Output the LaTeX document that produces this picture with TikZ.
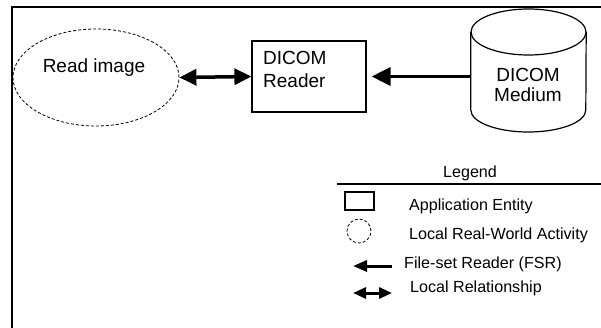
\documentclass[tikz,border=0pt]{standalone}
\usepackage{fontspec}
\setmainfont{Liberation Sans}
\usetikzlibrary{arrows.meta,shapes.geometric}
\begin{document}
\begin{tikzpicture}[x=1pt,y=-1pt,
  bigtxt/.style={inner sep=0pt,font=\fontsize{19}{21}\selectfont},
  legtxt/.style={inner sep=0pt,font=\fontsize{16.1}{18}\selectfont,anchor=base west},
  thickarrow/.style={line width=3.5pt},
  bigtip/.style={-{Triangle[length=19pt,width=18pt]}},
  dbltip/.style={{Triangle[length=17pt,width=16pt]}-{Triangle[length=17pt,width=16pt]}},
  smalltip/.style={-{Triangle[length=14pt,width=11pt]}},
  smalldbl/.style={{Triangle[length=13pt,width=11pt]}-{Triangle[length=13pt,width=11pt]}},
  dashy/.style={dash pattern=on 3pt off 2pt,line width=0.8pt}]
\useasboundingbox (0,0) rectangle (601,328);
% frame
\draw[line width=2.6pt] (601,7) -- (12,7) -- (12,328);
% Read image activity
\node[ellipse,draw,dashy,minimum width=166pt,minimum height=97pt,inner sep=0pt] (re) at (96,77.5) {};
\node[bigtxt,anchor=base] (retx) at (94,73) {Read image};
% DICOM Reader AE
\node[draw,line width=1.2pt,minimum width=114pt,minimum height=71pt,inner sep=0pt] (rdr) at (309,76.5) {};
\node[bigtxt,anchor=base west] (rdr1) at (263,65) {DICOM};
\node[bigtxt,anchor=base west] (rdr2) at (263,87.5) {Reader};
% DICOM Medium cylinder
\node[minimum width=115pt,minimum height=123pt,inner sep=0pt] (med) at (528.5,70.5) {};
\draw[line width=1.2pt] (528.5,32) ellipse [x radius=57.5,y radius=23];
\draw[line width=1.2pt] (med.west |- 0,32) -- (med.west |- 0,110)
  arc[start angle=180,end angle=0,x radius=57.5,y radius=22] -- (med.east |- 0,32);
\node[bigtxt,anchor=base] (med1) at (528,82) {DICOM};
\node[bigtxt,anchor=base] (med2) at (528,102) {Medium};
% connectors
\draw[thickarrow,dbltip] (re.east) -- (rdr.west);
\draw[thickarrow,bigtip,shorten >=5pt] (rdr.east -| med.west) -- (rdr.east);
% legend
\node[inner sep=0pt,font=\fontsize{16.1}{18}\selectfont,anchor=base] (leg) at (470,178) {Legend};
\draw[line width=2.5pt] (337,184) -- (601,184);
\node[draw,line width=1.2pt,minimum width=29pt,minimum height=18pt,inner sep=0pt] (lae) at (359.5,201) {};
\node[legtxt] (laet) at (409,210.7) {Application Entity};
\node[circle,draw,dashy,minimum size=24pt,inner sep=0pt] (lla) at (359,231) {};
\node[legtxt] (llat) at (409,239.3) {Local Real-World Activity};
\coordinate (fsrA) at (392,266);
\coordinate (fsrB) at (353,266);
\draw[line width=3pt,smalltip] (fsrA) -- (fsrB);
\node[legtxt] (fsrt) at (404,268.3) {File-set Reader (FSR)};
\coordinate (lrA) at (353,293);
\coordinate (lrB) at (392,293);
\draw[line width=3pt,smalldbl] (lrA) -- (lrB);
\node[legtxt] (lrt) at (410,292.7) {Local Relationship};
\end{tikzpicture}
\end{document}
